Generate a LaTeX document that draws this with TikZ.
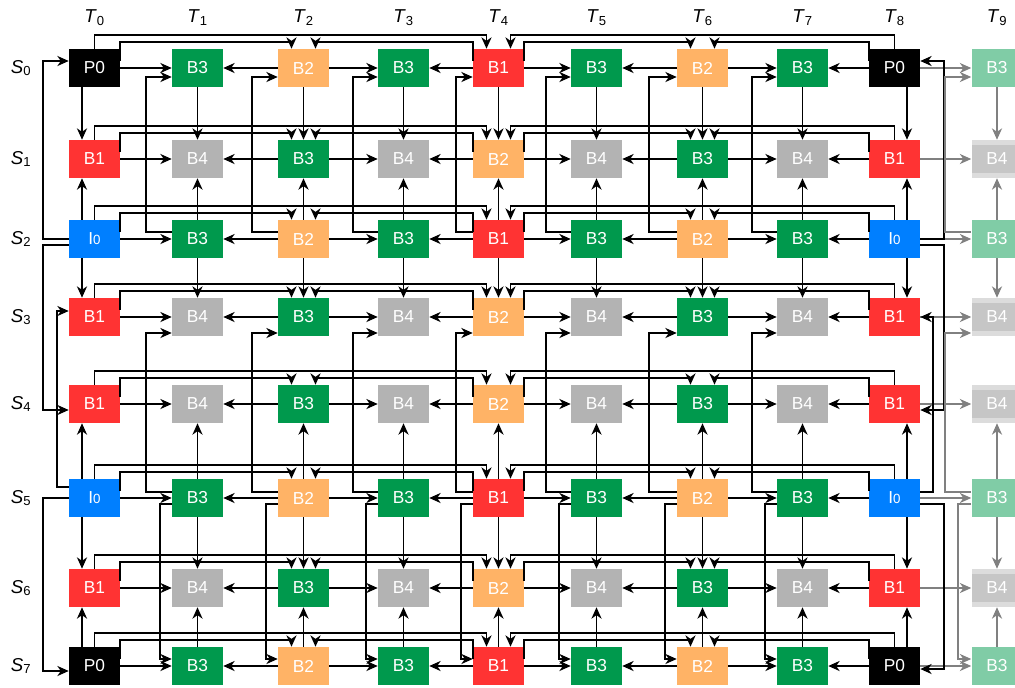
\documentclass[tikz,border=0pt]{standalone}
\usepackage{fontspec}
\setmainfont{Liberation Sans}
\usetikzlibrary{arrows.meta,calc}
\definecolor{cR}{HTML}{FF3333}
\definecolor{cO}{HTML}{FFB366}
\definecolor{cG}{HTML}{00994D}
\definecolor{cY}{HTML}{B3B3B3}
\definecolor{cBl}{HTML}{007FFF}
\definecolor{cGf}{HTML}{80CCA6}
\definecolor{cYo}{HTML}{DCDCDC}
\definecolor{cYi}{HTML}{C6C6C6}
\definecolor{cLn}{HTML}{808080}
\newcommand\Izero{I{\fontsize{10}{10}\selectfont 0}}
\begin{document}
\begin{tikzpicture}[x=0.75pt,y=-0.75pt,
  box/.style={rectangle, minimum width=38.25pt, minimum height=28.5pt, inner sep=0pt, text=white, font=\fontsize{13}{15}\selectfont},
  sP/.style={fill=black}, sR/.style={fill=cR}, sO/.style={fill=cO}, sG/.style={fill=cG},
  sY/.style={fill=cY}, sB/.style={fill=cBl}, sGf/.style={fill=cGf},
  sYf/.style={fill=cYo, path picture={\fill[cYi] ($(path picture bounding box.north west)+(0,5)$) rectangle ($(path picture bounding box.south east)+(0,-5)$);}},
  arr/.style={draw=black, line width=1.35pt, -{Stealth[length=8.5pt,width=7.5pt,inset=2.6pt]}},
  garr/.style={draw=cLn, line width=1.35pt, -{Stealth[length=8.5pt,width=7.5pt,inset=2.6pt]}},
  lbl/.style={font=\fontsize{14}{16}\selectfont}]
\useasboundingbox (0,0) rectangle (1015,687);
\clip (0,0) rectangle (1015,687);
\fill[white] (0,0) rectangle (1015,687);

% nodes
\foreach \x/\l/\s [count=\c from 0] in {94.5/P0/sP,197.5/B3/sG,303.5/B2/sO,403.5/B3/sG,498.5/B1/sR,596.5/B3/sG,702.5/B2/sO,802.5/B3/sG,894.5/P0/sP,997/B3/sGf}
  {\node[box,\s] (n-0-\c) at (\x,68) {\l};}
\foreach \x/\l/\s [count=\c from 0] in {94.5/B1/sR,197.5/B4/sY,303.5/B3/sG,403.5/B4/sY,498.5/B2/sO,596.5/B4/sY,702.5/B3/sG,802.5/B4/sY,894.5/B1/sR,997/B4/sYf}
  {\node[box,\s] (n-1-\c) at (\x,159) {\l};}
\foreach \x/\l/\s [count=\c from 0] in {94.5/\Izero/sB,197.5/B3/sG,303.5/B2/sO,403.5/B3/sG,498.5/B1/sR,596.5/B3/sG,702.5/B2/sO,802.5/B3/sG,894.5/\Izero/sB,997/B3/sGf}
  {\node[box,\s] (n-2-\c) at (\x,239) {\l};}
\foreach \x/\l/\s [count=\c from 0] in {94.5/B1/sR,197.5/B4/sY,303.5/B3/sG,403.5/B4/sY,498.5/B2/sO,596.5/B4/sY,702.5/B3/sG,802.5/B4/sY,894.5/B1/sR,997/B4/sYf}
  {\node[box,\s] (n-3-\c) at (\x,317) {\l};}
\foreach \x/\l/\s [count=\c from 0] in {94.5/B1/sR,197.5/B4/sY,303.5/B3/sG,403.5/B4/sY,498.5/B2/sO,596.5/B4/sY,702.5/B3/sG,802.5/B4/sY,894.5/B1/sR,997/B4/sYf}
  {\node[box,\s] (n-4-\c) at (\x,404) {\l};}
\foreach \x/\l/\s [count=\c from 0] in {94.5/\Izero/sB,197.5/B3/sG,303.5/B2/sO,403.5/B3/sG,498.5/B1/sR,596.5/B3/sG,702.5/B2/sO,802.5/B3/sG,894.5/\Izero/sB,997/B3/sGf}
  {\node[box,\s] (n-5-\c) at (\x,498) {\l};}
\foreach \x/\l/\s [count=\c from 0] in {94.5/B1/sR,197.5/B4/sY,303.5/B3/sG,403.5/B4/sY,498.5/B2/sO,596.5/B4/sY,702.5/B3/sG,802.5/B4/sY,894.5/B1/sR,997/B4/sYf}
  {\node[box,\s] (n-6-\c) at (\x,588) {\l};}
\foreach \x/\l/\s [count=\c from 0] in {94.5/P0/sP,197.5/B3/sG,303.5/B2/sO,403.5/B3/sG,498.5/B1/sR,596.5/B3/sG,702.5/B2/sO,802.5/B3/sG,894.5/P0/sP,997/B3/sGf}
  {\node[box,\s] (n-7-\c) at (\x,666) {\l};}

% labels
\foreach \x [count=\i from 0] in {94.5,197.5,303.5,403.5,498.5,596.5,702.5,802.5,894.5,997}
  {\node[lbl] (t\i) at (\x,18) {\textit{T}\textsubscript{\i}};}
\foreach \y [count=\i from 0] in {68,159,239,317,404,498,588,666}
  {\node[lbl] (s\i) at (21,\y) {\textit{S}\textsubscript{\i}};}

% horizontal temporal arrows
\foreach \r in {0,...,7}{
  \foreach \a/\b in {0/1,2/1,2/3,4/3,4/5,6/5,6/7,8/7}{\draw[arr] (n-\r-\a) -- (n-\r-\b);}
  \draw[garr] (n-\r-8) -- (n-\r-9);
}

% vertical inter-view arrows
\foreach \c in {1,...,7}{
  \foreach \a/\b in {0/1,2/1,2/3,5/4,5/6,7/6}{\draw[arr] (n-\a-\c) -- (n-\b-\c);}
}
\foreach \a/\b in {0/1,2/1,2/3,5/4,5/6,7/6}{\draw[garr] (n-\a-9) -- (n-\b-9);}
\foreach \a/\b/\sa/\sb in {0/1/south/north,2/1/north/south,2/3/south/north,5/4/north/south,5/6/south/north,7/6/north/south}{
  \draw[arr] ($(n-\a-0.\sa)+(-12.5,0)$) -- ($(n-\b-0.\sb)+(-12.5,0)$);
  \draw[arr] ($(n-\a-8.\sa)+(12.5,0)$) -- ($(n-\b-8.\sb)+(12.5,0)$);
}

% top hierarchical lines
\foreach \r in {0,...,7}{
  \draw[arr] (n-\r-0.north) -- ++(0,-13.5) -| ($(n-\r-4.north)+(-12,0)$);
  \draw[arr] (n-\r-8.north) -- ++(0,-13.5) -| ($(n-\r-4.north)+(12,0)$);
  \draw[arr] ($(n-\r-0.north east)+(0,12)$) -- ++(0,-18.5) -| ($(n-\r-2.north)+(-12,0)$);
  \draw[arr] ($(n-\r-4.north west)+(0,12)$) -- ++(0,-18.5) -| ($(n-\r-2.north)+(12,0)$);
  \draw[arr] ($(n-\r-4.north east)+(0,12)$) -- ++(0,-18.5) -| ($(n-\r-6.north)+(-12,0)$);
  \draw[arr] ($(n-\r-8.north west)+(0,12)$) -- ++(0,-18.5) -| ($(n-\r-6.north)+(12,0)$);
}

% long lines, left side (T0)
\draw[arr] (n-2-0.west) -- ++(-26,0) |- ($(n-0-0.west)+(0,-7)$);
\draw[arr] ($(n-2-0.west)+(0,6)$) -- ++(-26,0) |- ($(n-4-0.west)+(0,6)$);
\draw[arr] ($(n-5-0.west)+(0,-11)$) -- ++(-12,0) |- ($(n-3-0.west)+(0,-6)$);
\draw[arr] (n-5-0.west) -- ++(-26,0) |- ($(n-7-0.west)+(0,5)$);
% long lines, right side (T8)
\draw[arr] (n-2-8.east) -- ++(24,0) |- ($(n-0-8.east)+(0,-7)$);
\draw[arr] ($(n-2-8.east)+(0,6)$) -- ++(24,0) |- ($(n-4-8.east)+(0,6)$);
\draw[arr] ($(n-5-8.east)+(0,-6)$) -- ++(13,0) |- (n-3-8.east);
\draw[arr] ($(n-5-8.east)+(0,6)$) -- ++(24,0) |- ($(n-7-8.east)+(0,3)$);

% long lines, inner columns
\foreach \c/\dA in {1/26,2/26,3/25,4/17,5/25,6/28,7/25}{
  \draw[arr] ($(n-2-\c.west)+(0,-7)$) -- ++(-\dA,0) |- ($(n-0-\c.west)+(0,9)$);
  \draw[arr] ($(n-5-\c.west)+(0,-6)$) -- ++(-\dA,0) |- ($(n-3-\c.west)+(0,16)$);
  \draw[arr] ($(n-5-\c.west)+(0,6)$) -- ++(-12,0) |- ($(n-7-\c.west)+(0,-7)$);
}
\draw[garr] ($(n-2-9.west)+(0,-7)$) -- ++(-26,0) |- ($(n-0-9.west)+(0,9)$);
\draw[garr] ($(n-5-9.west)+(0,-6)$) -- ++(-26,0) |- ($(n-3-9.west)+(0,16)$);
\draw[garr] ($(n-5-9.west)+(0,6)$) -- ++(-13,0) |- ($(n-7-9.west)+(0,-7)$);
\end{tikzpicture}
\end{document}
